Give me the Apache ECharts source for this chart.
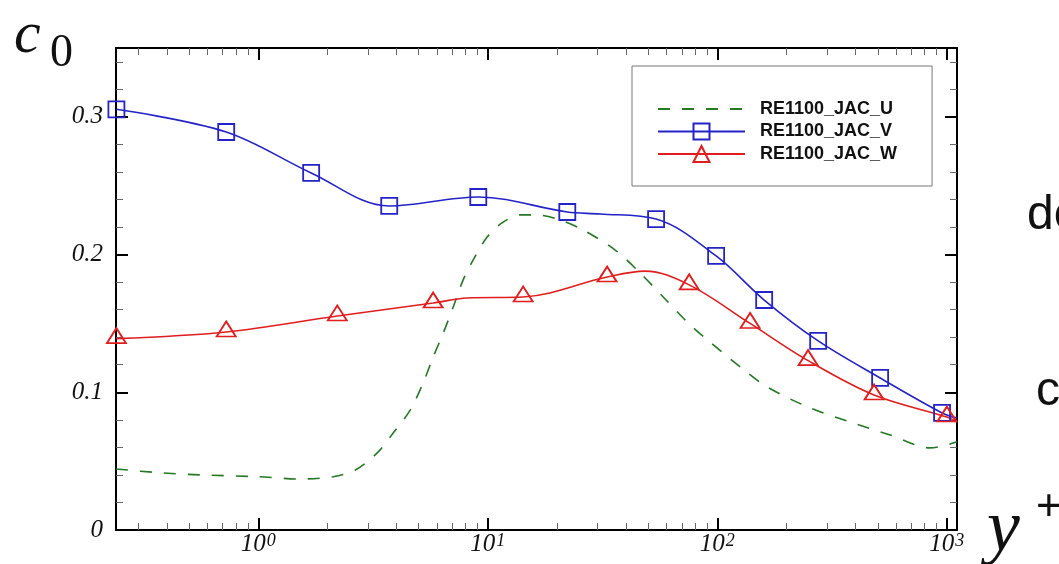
<!DOCTYPE html>
<html>
<head>
<meta charset="utf-8">
<script src="https://cdn.jsdelivr.net/npm/echarts@6/dist/echarts.min.js"></script>
<style>
  html, body { margin: 0; padding: 0; background: #fff; }
  #chart { width: 1059px; height: 564px; }
</style>
</head>
<body>
<div id="chart"></div>
<script>
// axis ranges and tick positions
const xMin = 0.24
const xMax = 1107
const yMin = 0
const yMax = 0.35
const xMajorTicks = [1, 10, 100, 1000]
const xMinorTicks = [0.3, 0.4, 0.5, 0.6, 0.7, 0.8, 0.9, 2, 3, 4, 5, 6, 7, 8, 9, 20, 30, 40, 50, 60, 70, 80, 90, 200, 300, 400, 500, 600, 700, 800, 900]
const yMajorTicks = [0, 0.1, 0.2, 0.3]
const yMinorTicks = [0.02, 0.04, 0.06, 0.08, 0.12, 0.14, 0.16, 0.18, 0.22, 0.24, 0.26, 0.28, 0.32, 0.34]

const seriesNames = ['RE1100_JAC_U', 'RE1100_JAC_V', 'RE1100_JAC_W']

// U: dashed curve, no markers
const uX = [0.24, 0.37, 0.56, 1.0, 1.52, 2.12, 2.65, 3.3, 3.87, 4.59, 5.23, 5.78, 6.4, 7.07, 7.81, 8.64, 9.94, 11.7, 13.8, 16.4, 20.7, 26.0, 35.9, 46.1, 58.1, 73.9, 88.5, 126, 165, 254, 379, 566, 845, 1000, 1107]
const uY = [0.0443, 0.0416, 0.040, 0.0387, 0.037, 0.0387, 0.0436, 0.056, 0.0704, 0.0871, 0.1068, 0.1256, 0.1431, 0.1619, 0.1816, 0.1961, 0.2128, 0.2237, 0.2288, 0.2288, 0.2251, 0.2179, 0.2033, 0.1866, 0.1692, 0.151, 0.1394, 0.1184, 0.1038, 0.0886, 0.0784, 0.069, 0.0596, 0.0617, 0.064]

// V: marker points + a few curve-only points
const vMarkX = [0.241, 0.725, 1.70, 3.72, 9.09, 22.2, 54.1, 98.8, 160, 275, 512, 953]
const vMarkY = [0.3055, 0.289, 0.2593, 0.2353, 0.2418, 0.2309, 0.2258, 0.199, 0.167, 0.1373, 0.1104, 0.085]
const vCurveX = [30.9, 1107]
const vCurveY = [0.2295, 0.0813]

// W: marker points + a few curve-only points
const wMarkX = [0.241, 0.725, 2.21, 5.78, 14.26, 33.1, 75.4, 138.9, 248.5, 482, 1000]
const wMarkY = [0.139, 0.1438, 0.1554, 0.1648, 0.1692, 0.1837, 0.178, 0.150, 0.123, 0.098, 0.082]
const wCurveX = [8.13, 48.5, 1107]
const wCurveY = [0.1685, 0.188, 0.0784]

function merge(mx, my, cx, cy) {
  const pts = mx.map((x, i) => ({ value: [x, my[i]] }))
    .concat(cx.map((x, i) => ({ value: [x, cy[i]], symbol: 'none' })))
  return pts.sort((a, b) => a.value[0] - b.value[0])
}

const serif = 'Liberation Serif'
const sans = 'Liberation Sans'

const chart = echarts.init(document.getElementById('chart'))

function xAxisDef(position, major, showLine) {
  return {
    type: 'log',
    logBase: 10,
    min: xMin,
    max: xMax,
    position: position,
    axisLine: { show: showLine, onZero: false, lineStyle: { color: '#000', width: 2 } },
    axisTick: {
      show: true,
      inside: true,
      length: major ? 12 : 7,
      customValues: major ? xMajorTicks : xMinorTicks,
      lineStyle: { color: major ? '#000' : '#666', width: major ? 2 : 1 },
    },
    axisLabel: {
      show: major && position === 'bottom',
      customValues: xMajorTicks,
      margin: 2,
      formatter: v => '{b|10}{s|' + Math.round(Math.log10(v)) + '}',
      rich: {
        b: { fontFamily: serif, fontStyle: 'italic', fontSize: 25, color: '#111', lineHeight: 25, verticalAlign: 'bottom' },
        s: { fontFamily: serif, fontStyle: 'italic', fontSize: 18, color: '#111', lineHeight: 18, verticalAlign: 'top', padding: [0, 0, 16, 1] },
      },
    },
    splitLine: { show: false },
    minorTick: { show: false },
  }
}

function yAxisDef(position, major, showLine) {
  return {
    type: 'value',
    min: yMin,
    max: yMax,
    position: position,
    axisLine: { show: showLine, onZero: false, lineStyle: { color: '#000', width: 2 } },
    axisTick: {
      show: true,
      inside: true,
      length: major ? 12 : 7,
      customValues: major ? yMajorTicks : yMinorTicks,
      lineStyle: { color: major ? '#000' : '#666', width: major ? 2 : 1 },
    },
    axisLabel: {
      show: major && position === 'left',
      customValues: yMajorTicks,
      margin: 13,
      formatter: v => String(v),
      fontFamily: serif,
      fontStyle: 'italic',
      fontSize: 25,
      color: '#111',
    },
    splitLine: { show: false },
    minorTick: { show: false },
  }
}

const option = {
  backgroundColor: '#fff',
  animation: false,
  grid: { left: 116, right: 102, top: 48, bottom: 34, outerBoundsMode: 'none', containLabel: false },
  legend: {
    data: [
      { name: seriesNames[0], itemStyle: { color: 'rgba(0,0,0,0)', borderWidth: 0 } },
      { name: seriesNames[1] },
      { name: seriesNames[2] },
    ],
    orient: 'vertical',
    left: 632,
    top: 66,
    padding: [34, 35, 23, 25],
    itemWidth: 87,
    itemHeight: 20,
    itemGap: 4.5,
    borderColor: '#777',
    borderWidth: 1,
    textStyle: { fontFamily: sans, fontWeight: 'bold', fontSize: 18, color: '#111', padding: [0, 0, 0, 10] },
  },
  xAxis: [
    xAxisDef('bottom', true, true),
    xAxisDef('bottom', false, false),
    xAxisDef('top', true, true),
    xAxisDef('top', false, false),
  ],
  yAxis: [
    yAxisDef('left', true, true),
    yAxisDef('left', false, false),
    yAxisDef('right', true, true),
    yAxisDef('right', false, false),
  ],
  graphic: [
    { type: 'text', left: 14, top: 6, style: { text: 'c', font: 'italic 60px "Liberation Serif"', fill: '#111' } },
    { type: 'text', left: 50, top: 31, style: { text: '0', font: '46px "Liberation Serif"', fill: '#111' } },
    { type: 'text', left: 987, top: 494, style: { text: 'y', font: 'italic 74px "Liberation Serif"', fill: '#111' } },
    { type: 'text', left: 1036, top: 486, style: { text: '+', font: '44px "Liberation Sans"', fill: '#111' } },
    { type: 'text', left: 1027, top: 192, style: { text: 'de', font: '48px "Liberation Sans"', fill: '#111' } },
    { type: 'text', left: 1036, top: 368, style: { text: 'c', font: '48px "Liberation Sans"', fill: '#111' } },
  ],
  series: [
    {
      name: seriesNames[0],
      type: 'line',
      smooth: 0.3,
      symbol: 'none',
      data: uX.map((x, i) => [x, uY[i]]),
      lineStyle: { color: '#237a23', width: 1.6, type: [12, 12] },
      itemStyle: { color: '#237a23' },
      z: 2,
    },
    {
      name: seriesNames[1],
      type: 'line',
      smooth: 0.35,
      symbol: 'rect',
      symbolSize: 16,
      showAllSymbol: true,
      data: merge(vMarkX, vMarkY, vCurveX, vCurveY),
      lineStyle: { color: '#2323c8', width: 1.6 },
      itemStyle: { color: 'rgba(0,0,0,0)', borderColor: '#2323c8', borderWidth: 1.8 },
      z: 3,
    },
    {
      name: seriesNames[2],
      type: 'line',
      smooth: 0.35,
      symbol: 'triangle',
      symbolSize: [19, 15],
      symbolOffset: [0, -3],
      showAllSymbol: true,
      data: merge(wMarkX, wMarkY, wCurveX, wCurveY),
      lineStyle: { color: '#e21d1d', width: 1.6 },
      itemStyle: { color: 'rgba(0,0,0,0)', borderColor: '#e21d1d', borderWidth: 1.8 },
      z: 3,
    },
  ],
}

chart.setOption(option)
</script>
</body>
</html>
